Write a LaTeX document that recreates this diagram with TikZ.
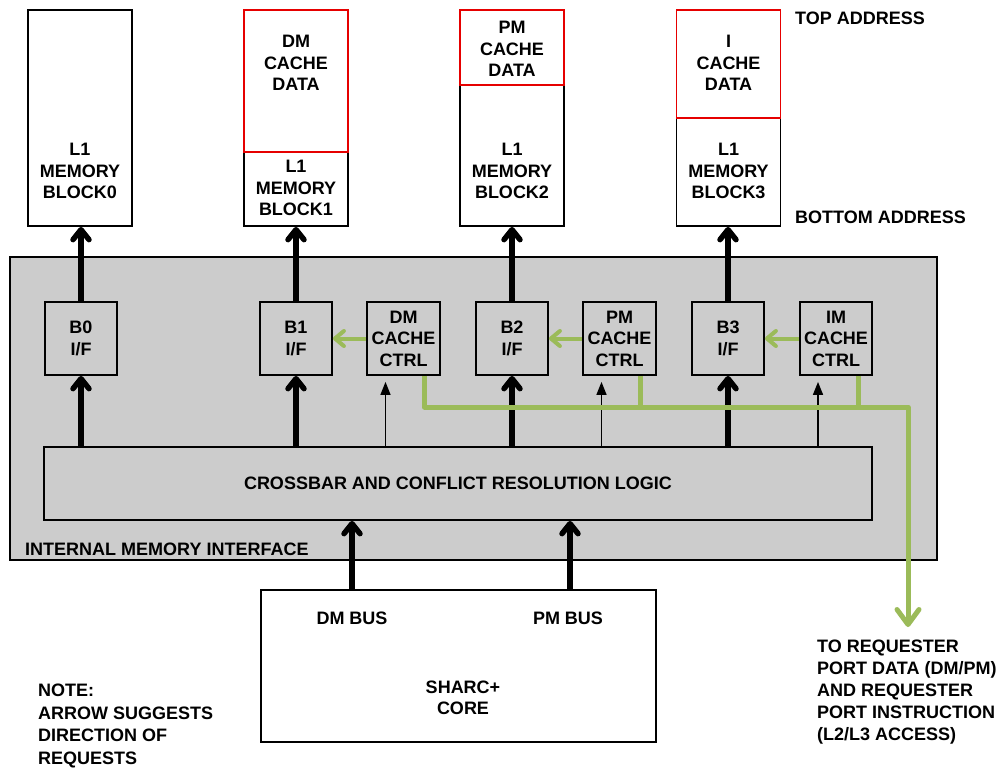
\documentclass[tikz,border=0pt]{standalone}
\usepackage{fontspec}
\setmainfont{Liberation Sans}
\usetikzlibrary{arrows.meta}
\definecolor{grn}{RGB}{155,187,89}
\definecolor{gry}{RGB}{204,204,204}
\definecolor{cred}{RGB}{230,0,0}
\begin{document}
\begin{tikzpicture}[x=1pt,y=-1pt,
  every node/.style={font=\fontsize{18}{21.5}\selectfont\bfseries, align=center, inner sep=0pt},
  box/.style={draw=black, line width=1.8pt, rectangle, fill=white},
  gbox/.style={draw=black, line width=1.8pt, rectangle, fill=gry},
  redbox/.style={draw=cred, line width=1.8pt, rectangle},
  lbl/.style={anchor=west, align=left},
  fat/.style={line width=5.5pt, -{Straight Barb[length=10pt,width=16pt,round]}},
  thinarrow/.style={line width=1.5pt, -{Triangle[length=13pt,width=10pt]}},
  grnarrow/.style={draw=grn, line width=4pt, -{Straight Barb[length=9pt,width=15pt,round]}},
  grnline/.style={draw=grn, line width=5pt, line join=round}
]
\useasboundingbox (0,0) rectangle (998,769);

% memory blocks
\node[box, minimum width=104pt, minimum height=216pt] (m0) at (80,118) {};
\node at (80,171) {L1\\MEMORY\\BLOCK0};

\node[box, minimum width=104pt, minimum height=216pt] (m1) at (296,118) {};
\node[redbox, minimum width=104pt, minimum height=142pt] (c1) at (296,81) {};
\node at (296,63) {DM\\CACHE\\DATA};
\node at (296,188) {L1\\MEMORY\\BLOCK1};

\node[box, minimum width=104pt, minimum height=216pt] (m2) at (512,118) {};
\node[redbox, minimum width=104pt, minimum height=75pt] (c2) at (512,47.5) {};
\node at (512,49) {PM\\CACHE\\DATA};
\node at (512,171) {L1\\MEMORY\\BLOCK2};

\node[box, minimum width=104pt, minimum height=216pt] (m3) at (728.5,118) {};
\node[redbox, minimum width=104pt, minimum height=108pt] (c3) at (728.5,64) {};
\node at (728.5,63) {I\\CACHE\\DATA};
\node at (728.5,171) {L1\\MEMORY\\BLOCK3};

\node[lbl] (top) at (795,18) {TOP ADDRESS};
\node[lbl] (bot) at (795,217) {BOTTOM ADDRESS};

% internal memory interface
\node[gbox, minimum width=927pt, minimum height=303pt] (imi) at (473.5,408.5) {};
\node[lbl] (imilbl) at (25,549) {INTERNAL MEMORY INTERFACE};

\node[gbox, minimum width=72pt, minimum height=73pt] (b0) at (81,338.5) {B0\\I/F};
\node[gbox, minimum width=72pt, minimum height=73pt] (b1) at (296,338.5) {B1\\I/F};
\node[gbox, minimum width=73pt, minimum height=73pt] (dmc) at (403.5,338.5) {DM\\CACHE\\CTRL};
\node[gbox, minimum width=72pt, minimum height=73pt] (b2) at (512,338.5) {B2\\I/F};
\node[gbox, minimum width=73pt, minimum height=73pt] (pmc) at (619.5,338.5) {PM\\CACHE\\CTRL};
\node[gbox, minimum width=72pt, minimum height=73pt] (b3) at (728,338.5) {B3\\I/F};
\node[gbox, minimum width=72pt, minimum height=73pt] (imc) at (836,338.5) {IM\\CACHE\\CTRL};

\node[gbox, minimum width=828pt, minimum height=73pt] (xbar) at (458,483.5) {CROSSBAR AND CONFLICT RESOLUTION LOGIC};

% core
\node[box, minimum width=395pt, minimum height=152pt] (core) at (458.5,666) {};
\node (dmbus) at (352,618) {DM BUS};
\node (pmbus) at (568,618) {PM BUS};
\node (sharc) at (463,698) {SHARC+\\CORE};

% arrows to memory blocks
\draw[fat] (b0.north) -- (b0.north |- m0.south);
\draw[fat] (b1.north) -- (b1.north |- m1.south);
\draw[fat] (b2.north) -- (b2.north |- m2.south);
\draw[fat] (b3.north) -- (b3.north |- m3.south);

% crossbar to interfaces
\draw[fat] (b0.south |- xbar.north) -- (b0.south);
\draw[fat] (b1.south |- xbar.north) -- (b1.south);
\draw[fat] (b2.south |- xbar.north) -- (b2.south);
\draw[fat] (b3.south |- xbar.north) -- (b3.south);

% crossbar to cache controllers
\draw[thinarrow, shorten >=6pt] ([xshift=-18pt]dmc.south |- xbar.north) -- ([xshift=-18pt]dmc.south);
\draw[thinarrow, shorten >=6pt] ([xshift=-18pt]pmc.south |- xbar.north) -- ([xshift=-18pt]pmc.south);
\draw[thinarrow, shorten >=6pt] ([xshift=-18pt]imc.south |- xbar.north) -- ([xshift=-18pt]imc.south);

% green controller arrows
\draw[grnarrow] (dmc.west) -- (b1.east);
\draw[grnarrow] (pmc.west) -- (b2.east);
\draw[grnarrow] (imc.west) -- (b3.east);

% green request bus
\coordinate (gturn) at (908,407);
\coordinate (gend) at (908,627);
\draw[grnline, -{Straight Barb[length=15pt,width=22pt,round]}] ([xshift=21pt]dmc.south) |- (gturn) -- (gend);
\draw[grnline] ([xshift=21pt]pmc.south) -- ([xshift=21pt]pmc.south |- gturn);
\draw[grnline] ([xshift=22pt]imc.south) -- ([xshift=22pt]imc.south |- gturn);

% buses from core
\draw[fat] ([xshift=-106.5pt]core.north) -- ([xshift=-106.5pt]core.north |- xbar.south);
\draw[fat] ([xshift=111.5pt]core.north) -- ([xshift=111.5pt]core.north |- xbar.south);

% notes
\node[lbl, font=\fontsize{18}{22.7}\selectfont\bfseries] (note) at (38,726) {NOTE:\\ARROW SUGGESTS\\DIRECTION OF\\REQUESTS};
\node[lbl, font=\fontsize{18}{22}\selectfont\bfseries] (req) at (817,692) {TO REQUESTER\\PORT DATA (DM/PM)\\AND REQUESTER\\PORT INSTRUCTION\\(L2/L3 ACCESS)};
\end{tikzpicture}
\end{document}
